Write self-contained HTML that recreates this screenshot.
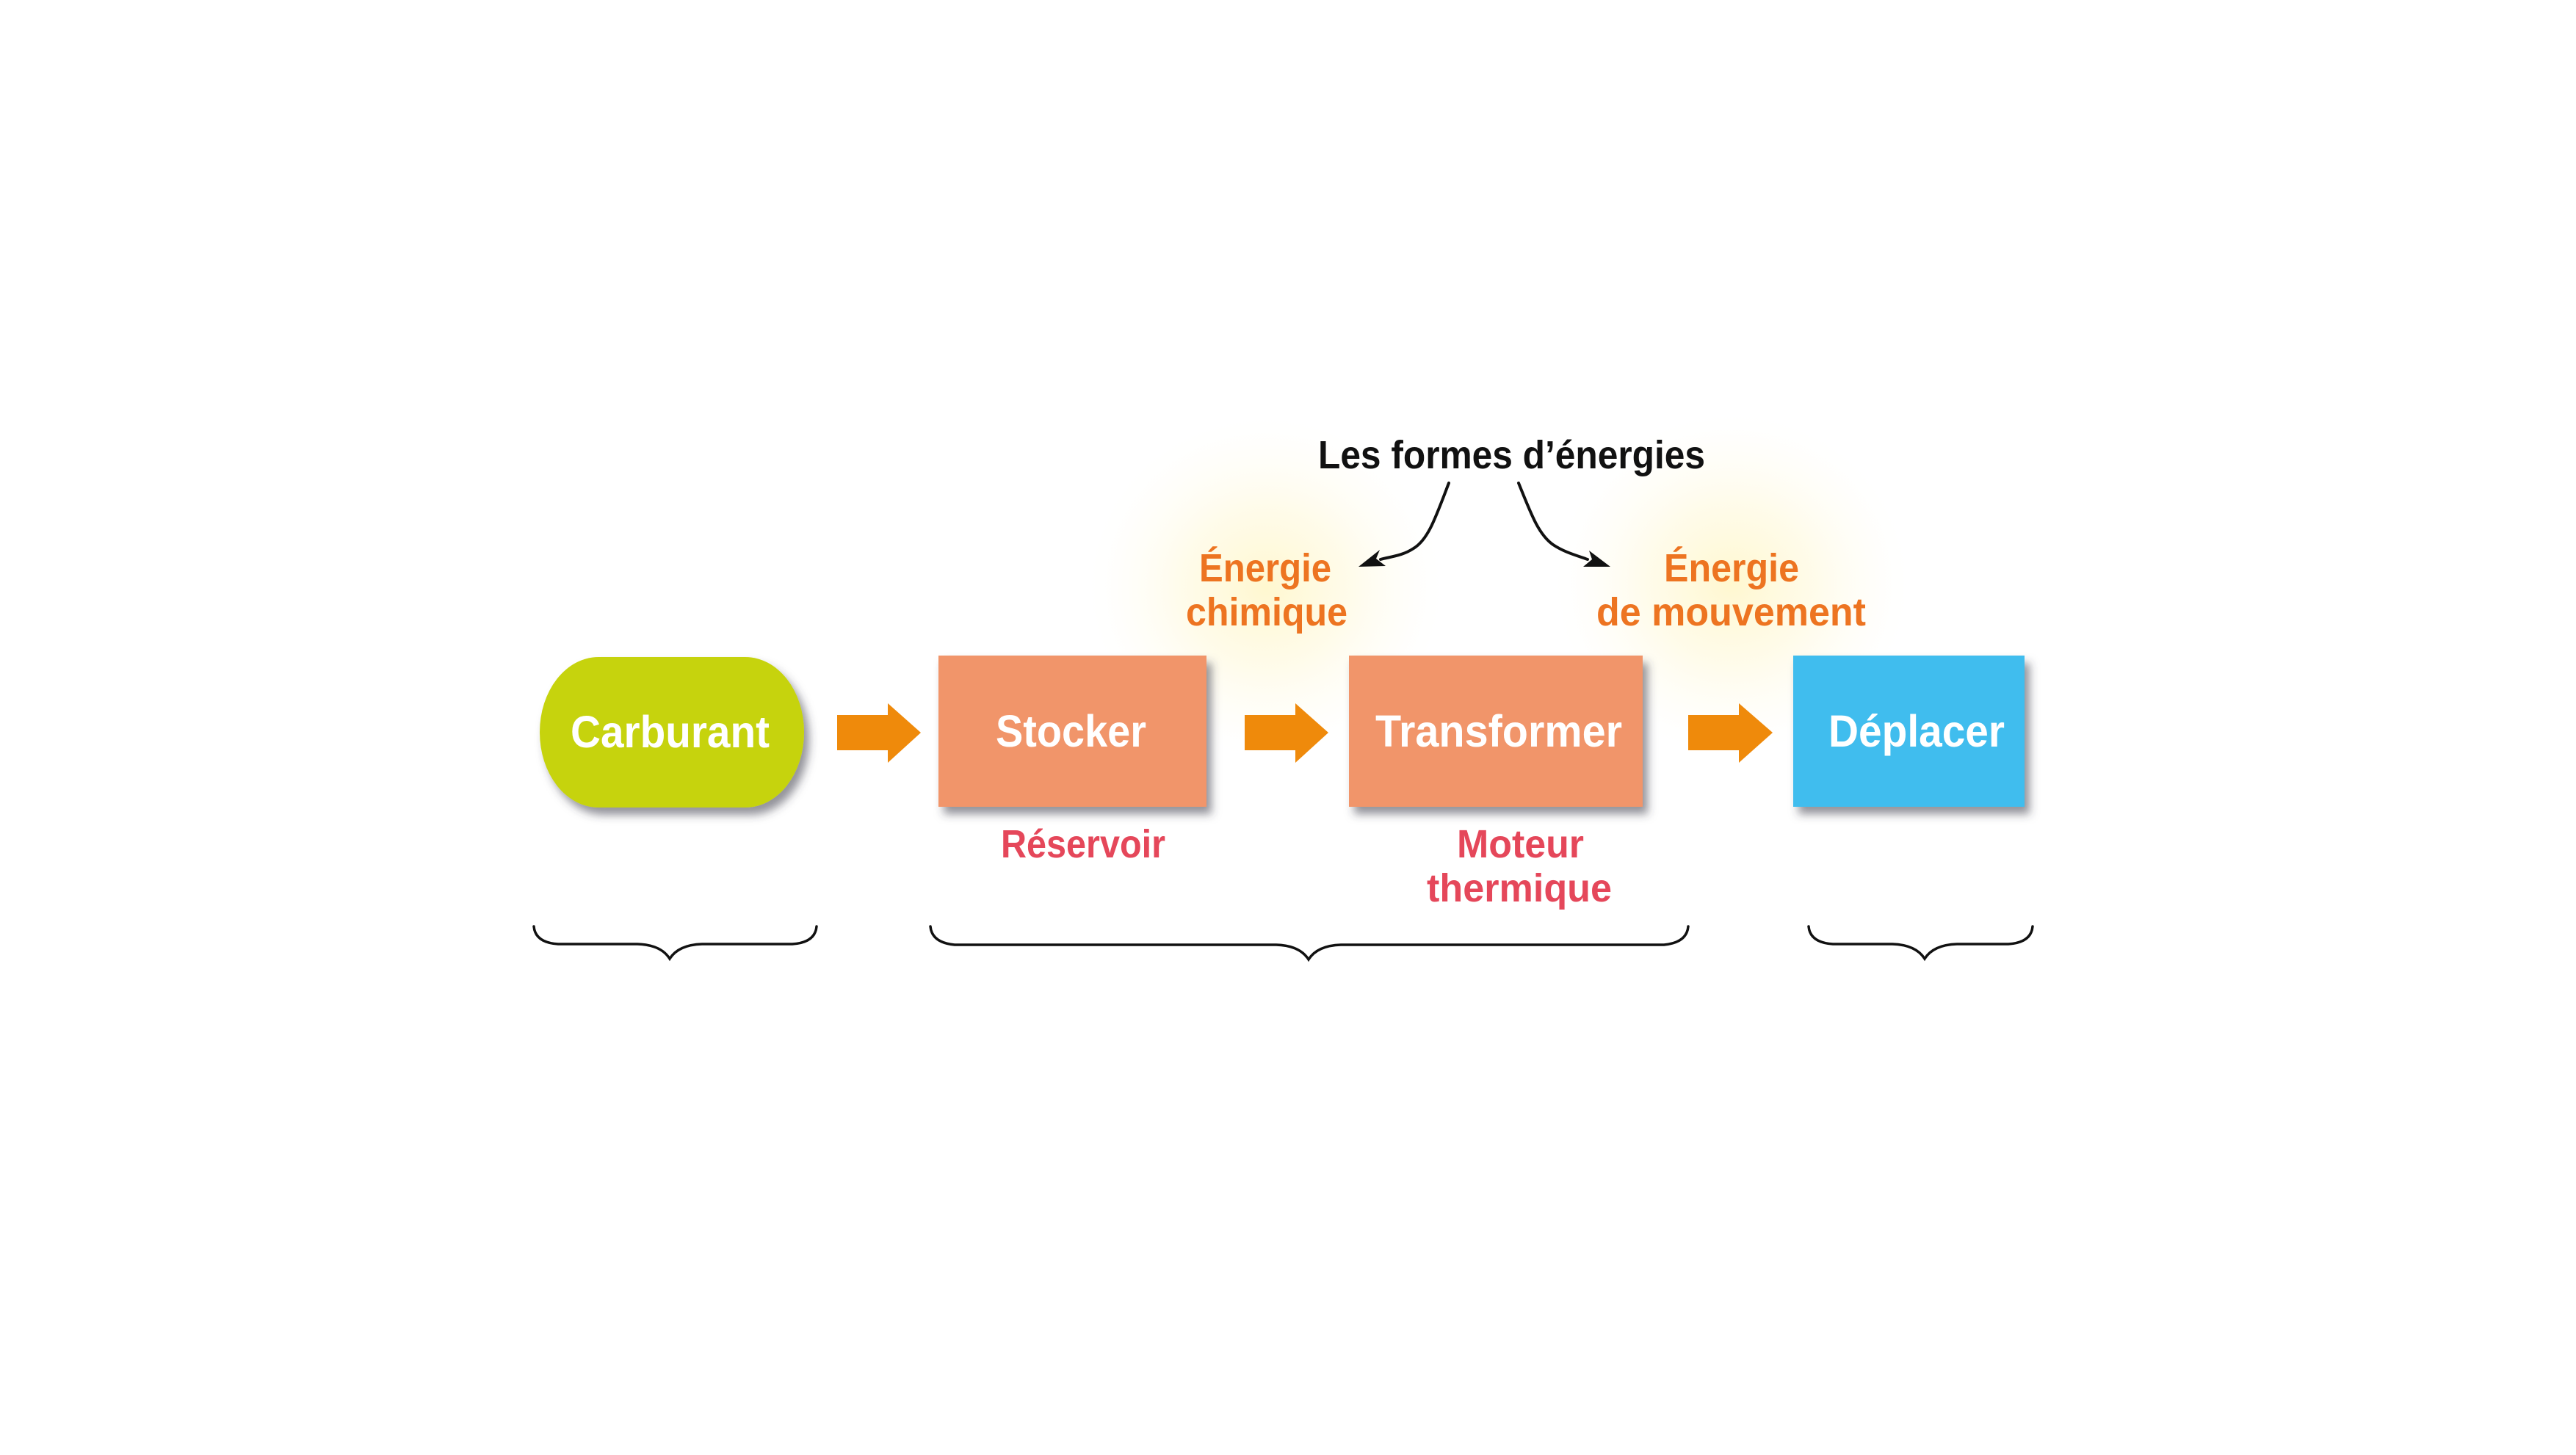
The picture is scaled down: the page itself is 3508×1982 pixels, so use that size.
<!DOCTYPE html>
<html>
<head>
<meta charset="utf-8">
<style>
  html, body { margin: 0; padding: 0; background: #ffffff; }
  body { width: 3508px; height: 1982px; overflow: hidden; }
  svg { display: block; }
  text { font-family: "Liberation Sans", "DejaVu Sans", sans-serif; font-weight: bold; }
</style>
</head>
<body>
<svg xmlns="http://www.w3.org/2000/svg" width="3508" height="1982" viewBox="0 0 3508 1982">
  <defs>
    <radialGradient id="glow" cx="50%" cy="50%" r="50%">
      <stop offset="0" stop-color="#fff0a0" stop-opacity="0.50"/>
      <stop offset="0.45" stop-color="#fff3b8" stop-opacity="0.30"/>
      <stop offset="0.8" stop-color="#fff8d8" stop-opacity="0.10"/>
      <stop offset="1" stop-color="#ffffff" stop-opacity="0"/>
    </radialGradient>
    <filter id="sh" x="-20%" y="-20%" width="150%" height="160%">
      <feDropShadow dx="7" dy="10" stdDeviation="6" flood-color="#3a3a48" flood-opacity="0.55"/>
    </filter>
  </defs>

  <rect x="0" y="0" width="3508" height="1982" fill="#ffffff"/>

  <!-- glows -->
  <ellipse cx="1724" cy="800" rx="250" ry="240" fill="url(#glow)"/>
  <ellipse cx="2358" cy="795" rx="250" ry="240" fill="url(#glow)"/>

  <!-- Title -->
  <text x="1795" y="638" font-size="54" fill="#111111" textLength="527" lengthAdjust="spacingAndGlyphs">Les formes d’énergies</text>

  <!-- curved arrows -->
  <path d="M1973,658 C1955,705 1945,735 1925,747 C1910,757 1895,758 1880,762" fill="none" stroke="#111" stroke-width="4" stroke-linecap="round"/>
  <polygon points="1850,772 1879,749 1874,761 1887,771" fill="#111"/>
  <path d="M2068,658 C2085,700 2095,728 2115,742 C2130,752 2145,756 2162,762" fill="none" stroke="#111" stroke-width="4" stroke-linecap="round"/>
  <polygon points="2193,772 2164,750 2168,762 2156,772" fill="#111"/>

  <!-- Energy labels -->
  <text x="1633" y="792" font-size="54" fill="#ed7421" textLength="180" lengthAdjust="spacingAndGlyphs">Énergie</text>
  <text x="1615" y="852" font-size="54" fill="#ed7421" textLength="220" lengthAdjust="spacingAndGlyphs">chimique</text>
  <text x="2266" y="792" font-size="54" fill="#ed7421" textLength="184" lengthAdjust="spacingAndGlyphs">Énergie</text>
  <text x="2174" y="852" font-size="54" fill="#ed7421" textLength="367" lengthAdjust="spacingAndGlyphs">de mouvement</text>

  <!-- Nodes -->
  <rect x="735" y="895" width="360" height="205" rx="80" ry="102" fill="#c6d30a" filter="url(#sh)"/>
  <rect x="1278" y="893" width="365" height="206" fill="#f1956b" filter="url(#sh)"/>
  <rect x="1837" y="893" width="400" height="206" fill="#f1956b" filter="url(#sh)"/>
  <rect x="2442" y="893" width="315" height="206" fill="#40bdee" filter="url(#sh)"/>

  <text x="777" y="1018" font-size="61" fill="#ffffff" textLength="271" lengthAdjust="spacingAndGlyphs">Carburant</text>
  <text x="1356" y="1017" font-size="61" fill="#ffffff" textLength="205" lengthAdjust="spacingAndGlyphs">Stocker</text>
  <text x="1873" y="1017" font-size="61" fill="#ffffff" textLength="336" lengthAdjust="spacingAndGlyphs">Transformer</text>
  <text x="2490" y="1017" font-size="61" fill="#ffffff" textLength="240" lengthAdjust="spacingAndGlyphs">Déplacer</text>

  <!-- Block arrows -->
  <polygon points="1140,974 1209,974 1209,958 1254,998 1209,1039 1209,1022 1140,1022" fill="#ef8a0b"/>
  <polygon points="1695,974 1764,974 1764,958 1809,998 1764,1039 1764,1022 1695,1022" fill="#ef8a0b"/>
  <polygon points="2299,974 2368,974 2368,958 2414,998 2368,1039 2368,1022 2299,1022" fill="#ef8a0b"/>

  <!-- Red labels -->
  <text x="1363" y="1168" font-size="54" fill="#e5475a" textLength="224" lengthAdjust="spacingAndGlyphs">Réservoir</text>
  <text x="1984" y="1168" font-size="54" fill="#e5475a" textLength="173" lengthAdjust="spacingAndGlyphs">Moteur</text>
  <text x="1943" y="1228" font-size="54" fill="#e5475a" textLength="252" lengthAdjust="spacingAndGlyphs">thermique</text>

  <!-- Braces -->
  <g fill="none" stroke="#111" stroke-linecap="round" stroke-width="3.5">
    <path d="M727,1262 Q729,1284 760,1286 L868,1286 Q900,1287 912,1306 Q924,1287 956,1286 L1079,1286 Q1110,1284 1112,1262"/>
    <path d="M1267,1262 Q1269,1284 1300,1287 L1738,1287 Q1770,1288 1782,1307 Q1794,1288 1826,1287 L2266,1287 Q2297,1284 2299,1262"/>
    <path d="M2463,1262 Q2465,1284 2496,1286 L2577,1286 Q2609,1287 2621,1306 Q2633,1287 2665,1286 L2735,1286 Q2766,1284 2768,1262"/>
  </g>
</svg>
</body>
</html>
